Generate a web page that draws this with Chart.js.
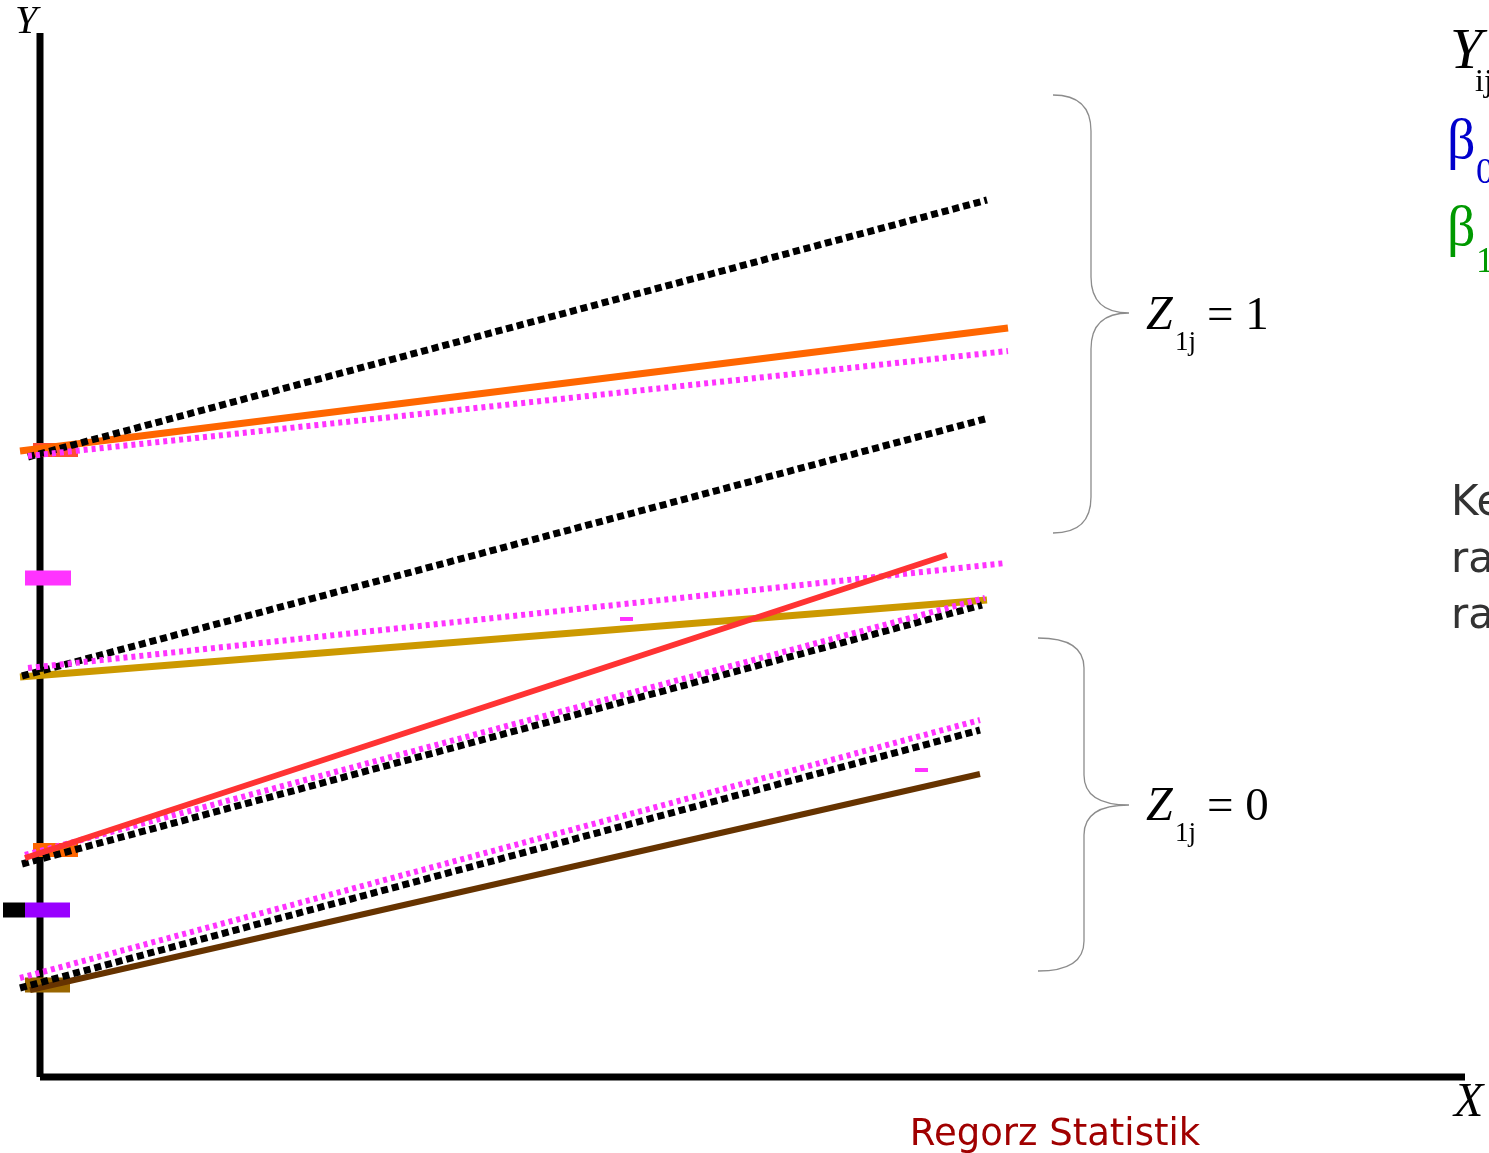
<!DOCTYPE html>
<html>
<head>
<meta charset="utf-8">
<script src="https://cdn.jsdelivr.net/npm/chart.js@4.4.1/dist/chart.umd.min.js"></script>
<style>
  html, body { margin: 0; padding: 0; background: #fff; overflow: hidden; }
  #wrap { width: 1489px; height: 1153px; }
</style>
</head>
<body>
<div id="wrap"><canvas id="chart" width="1489" height="1153"></canvas></div>
<script>
// axes (X measured from the Y axis, Y measured up from the X axis)
const axisYLine = [[0, 0], [0, 1044]];
const axisXLine = [[0, 0], [1425, 0]];

// group Z1j = 1, upper pair
const fitUpperBlack = [[-12, 620], [947, 877]];
const fitUpperOrange = [[-20, 626], [968, 749]];
const fitUpperPink = [[-12, 621], [968, 726]];
// group Z1j = 1, lower pair
const fitMidBlack = [[-18, 401], [945, 658]];
const fitMidPink = [[-12, 409], [966, 514]];
const fitMidGold = [[-20, 400], [947, 477]];
// group Z1j = 0, upper pair
const fitLowRed = [[-15, 219], [907, 522]];
const fitLowPink = [[-15, 222], [945, 479]];
const fitLowBlack = [[-18, 213], [942, 472]];
// group Z1j = 0, bottom pair
const fitBottomPink = [[-20, 99], [940, 357]];
const fitBottomBlack = [[-20, 89], [940, 347]];
const fitBottomBrown = [[-10, 87], [940, 303]];

// intercept markers on the Y axis
const markRed = [[-7, 627], [38, 627]];
const markPink = [[-15, 499], [31, 499]];
const markOrange = [[-7, 227], [38, 227]];
const markBlack = [[-37, 167], [-15, 167]];
const markPurple = [[-15, 167], [30, 167]];
const markBrown = [[-15, 92], [30, 92]];
const tickPinkA = [[580, 458], [593, 458]];
const tickPinkB = [[875, 307], [888, 307]];

const pts = (arr) => arr.map(([x, y]) => ({ x, y }));

const DOT_BLACK = [7, 4];
const DOT_PINK = [4, 4];

// back to front
const layers = [
  { data: axisYLine, color: '#000', width: 7 },
  { data: axisXLine, color: '#000', width: 7 },
  { data: markRed, color: '#ff4d33', width: 14 },
  { data: markOrange, color: '#ff6600', width: 14 },
  { data: markPink, color: '#ff33ff', width: 15 },
  { data: markBlack, color: '#000', width: 15 },
  { data: markPurple, color: '#9900ff', width: 15 },
  { data: markBrown, color: '#996600', width: 15 },
  { data: tickPinkA, color: '#ff33ff', width: 4 },
  { data: tickPinkB, color: '#ff33ff', width: 4 },
  { data: fitUpperOrange, color: '#ff6600', width: 7 },
  { data: fitUpperBlack, color: '#000', width: 7, dash: DOT_BLACK },
  { data: fitUpperPink, color: '#ff33ff', width: 6, dash: DOT_PINK },
  { data: fitMidGold, color: '#cc9900', width: 7 },
  { data: fitMidBlack, color: '#000', width: 7, dash: DOT_BLACK },
  { data: fitMidPink, color: '#ff33ff', width: 6, dash: DOT_PINK },
  { data: fitLowBlack, color: '#000', width: 7, dash: DOT_BLACK },
  { data: fitLowPink, color: '#ff33ff', width: 6, dash: DOT_PINK },
  { data: fitLowRed, color: '#ff3333', width: 6 },
  { data: fitBottomBrown, color: '#663300', width: 6 },
  { data: fitBottomBlack, color: '#000', width: 7, dash: DOT_BLACK },
  { data: fitBottomPink, color: '#ff33ff', width: 6, dash: DOT_PINK },
];

const SERIF = '"Liberation Serif", "Times New Roman", serif';
const SANS = '"DejaVu Sans", Verdana, sans-serif';

function text(ctx, str, x, y, font, color) {
  ctx.font = font;
  ctx.fillStyle = color;
  ctx.textBaseline = 'alphabetic';
  ctx.textAlign = 'left';
  ctx.fillText(str, x, y);
}

function brace(ctx, x0, xMid, xTip, yTop, yTip, yBot, r) {
  ctx.beginPath();
  ctx.moveTo(x0, yTop);
  ctx.quadraticCurveTo(xMid, yTop, xMid, yTop + r);
  ctx.lineTo(xMid, yTip - r);
  ctx.quadraticCurveTo(xMid, yTip, xTip, yTip);
  ctx.quadraticCurveTo(xMid, yTip, xMid, yTip + r);
  ctx.lineTo(xMid, yBot - r);
  ctx.quadraticCurveTo(xMid, yBot, x0, yBot);
  ctx.stroke();
}

const decorations = {
  id: 'decorations',
  afterDraw(chart) {
    const ctx = chart.ctx;
    ctx.save();
    // axis names
    text(ctx, 'Y', 15, 33, 'italic 40px ' + SERIF, '#000');
    text(ctx, 'X', 1454, 1116, 'italic 48px ' + SERIF, '#000');

    // braces
    ctx.strokeStyle = '#8c8c8c';
    ctx.lineWidth = 1.3;
    brace(ctx, 1053, 1091, 1129, 95, 313, 533, 36);
    brace(ctx, 1038, 1084, 1129, 638, 805, 971, 30);

    text(ctx, 'Z', 1146, 329, 'italic 48px ' + SERIF, '#000');
    text(ctx, '1j', 1175, 350, '27px ' + SERIF, '#000');
    text(ctx, '= 1', 1207, 329, '47px ' + SERIF, '#000');
    text(ctx, 'Z', 1146, 820, 'italic 48px ' + SERIF, '#000');
    text(ctx, '1j', 1175, 841, '27px ' + SERIF, '#000');
    text(ctx, '= 0', 1207, 820, '47px ' + SERIF, '#000');

    // cut-off formula on the right
    text(ctx, 'Y', 1450, 68, 'italic 58px ' + SERIF, '#000');
    text(ctx, 'ij', 1475, 91, '32px ' + SERIF, '#000');
    text(ctx, 'β', 1447, 158, '56px ' + SERIF, '#0000cc');
    text(ctx, '0', 1476, 183, '36px ' + SERIF, '#0000cc');
    text(ctx, 'β', 1447, 245, '56px ' + SERIF, '#009900');
    text(ctx, '1', 1476, 272, '36px ' + SERIF, '#009900');

    text(ctx, 'Ke', 1451, 515, '42px ' + SANS, '#333333');
    text(ctx, 'ra', 1451, 572, '42px ' + SANS, '#333333');
    text(ctx, 'ra', 1451, 628, '42px ' + SANS, '#333333');

    ctx.textAlign = 'center';
    ctx.font = '37px ' + SANS;
    ctx.fillStyle = '#a00000';
    ctx.fillText('Regorz Statistik', 1055, 1145);
    ctx.restore();
  }
};

new Chart(document.getElementById('chart'), {
  type: 'scatter',
  data: {
    datasets: layers.map((l, i) => ({
      data: pts(l.data),
      showLine: true,
      borderColor: l.color,
      backgroundColor: l.color,
      borderWidth: l.width,
      borderDash: l.dash || [],
      borderCapStyle: 'butt',
      pointRadius: 0,
      tension: 0,
      order: layers.length - i,
    })),
  },
  options: {
    responsive: false,
    animation: false,
    layout: { padding: 0 },
    plugins: { legend: { display: false }, tooltip: { enabled: false } },
    scales: {
      x: { type: 'linear', display: false, min: -40, max: 1449 },
      y: { type: 'linear', display: false, min: -76, max: 1077 },
    },
  },
  plugins: [decorations],
});
</script>
</body>
</html>
